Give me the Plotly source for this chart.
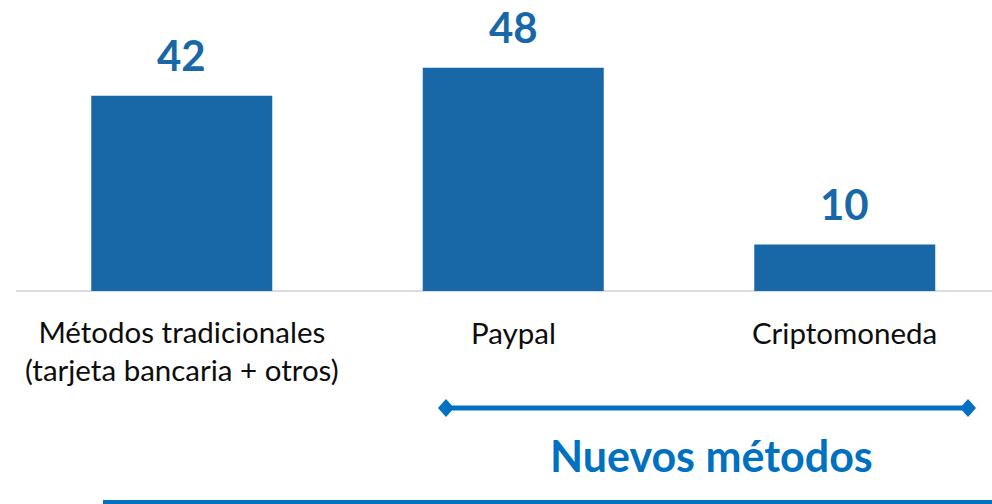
import plotly.graph_objects as go

categories = ["Métodos tradicionales<br>(tarjeta bancaria + otros)", "Paypal", "Criptomoneda"]
values = [42, 48, 10]
value_labels = ["42", "48", "10"]
group_label = "Nuevos métodos"

BAR = "#1868A8"
ACCENT = "#0070C0"
FONT = "Lato"

W, H = 992, 504
PX_PER_UNIT = 4.65
BASE_PX = 291
PLOT_L = 16
CAT_PX = 331.5


def py(px):
    return (BASE_PX - px) / PX_PER_UNIT


def px_x(px):
    return (px - PLOT_L) / CAT_PX - 0.5


x_idx = list(range(len(categories)))

fig = go.Figure()
fig.add_trace(go.Bar(x=x_idx, y=values, width=0.546, marker_color=BAR,
                     marker_line_width=0, hoverinfo="skip"))

for i, (v, t) in enumerate(zip(values, value_labels)):
    fig.add_annotation(x=i, y=v, text=f"<b>{t}</b>", showarrow=False,
                       yanchor="bottom", yshift=14,
                       font=dict(family=FONT, size=42, color=BAR))

for i, c in enumerate(categories):
    nlines = c.count("<br>") + 1
    center_px = 332 + (nlines - 1) * 37 / 2
    fig.add_annotation(x=i, y=py(center_px), text=c, showarrow=False,
                       yanchor="middle", xanchor="center",
                       font=dict(family=FONT, size=29.5, color="#0D0D0D"))

fig.add_annotation(x=px_x(711), y=py(455), text=f"<b>{group_label}</b>",
                   showarrow=False, yanchor="middle", xanchor="center",
                   font=dict(family=FONT, size=43, color=ACCENT))

# bracket under new methods
bx0, bx1, by = px_x(446), px_x(968), py(408)
fig.add_shape(type="line", xref="x", yref="y", x0=bx0, x1=bx1, y0=by, y1=by,
              line=dict(color=ACCENT, width=5))
for bx in (bx0, bx1):
    fig.add_shape(type="path", xref="x", yref="y", xsizemode="pixel",
                  ysizemode="pixel", xanchor=bx, yanchor=by,
                  path="M -8,0 L 0,9 L 8,0 L 0,-9 Z",
                  fillcolor=ACCENT, line=dict(color=ACCENT, width=0))

# bottom rule
fig.add_shape(type="line", xref="x", yref="y",
              x0=px_x(103), x1=px_x(W), y0=py(502), y1=py(502),
              line=dict(color=ACCENT, width=4))

fig.update_layout(
    width=W, height=H,
    margin=dict(l=PLOT_L, r=0, t=0, b=0),
    plot_bgcolor="white", paper_bgcolor="white",
    showlegend=False,
    xaxis=dict(range=[-0.5, -0.5 + (W - PLOT_L) / CAT_PX], showticklabels=False,
               showgrid=False, zeroline=False, showline=False, fixedrange=True),
    yaxis=dict(range=[(BASE_PX - H) / PX_PER_UNIT, BASE_PX / PX_PER_UNIT],
               showticklabels=False, showgrid=False,
               zeroline=True, zerolinecolor="#D9DDE2", zerolinewidth=2,
               showline=False, fixedrange=True),
)

fig.write_html("out.html", config={"displayModeBar": False},
               post_script="document.body.style.margin='0';document.body.style.overflow='hidden';")
